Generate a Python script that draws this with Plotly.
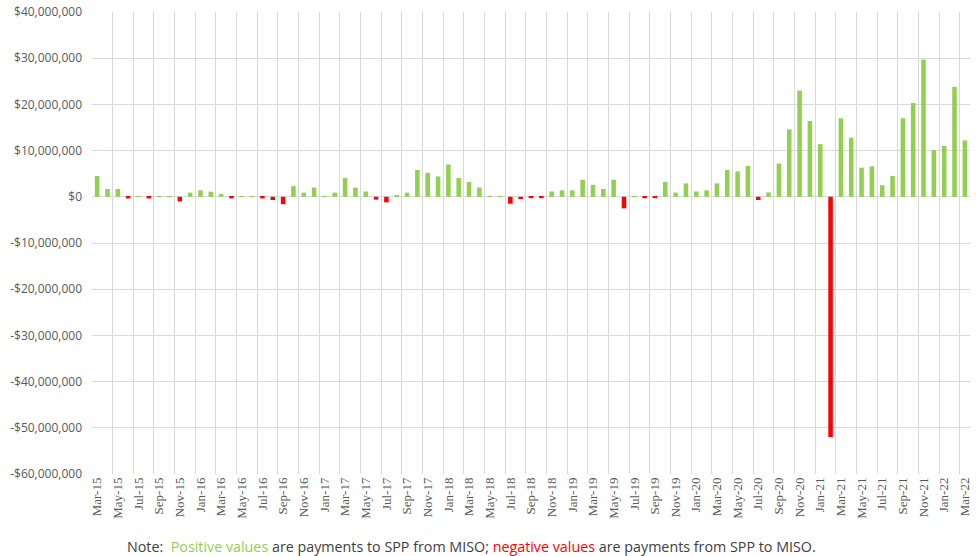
import plotly.graph_objects as go

months = []
mnames = ["Jan", "Feb", "Mar", "Apr", "May", "Jun", "Jul", "Aug", "Sep", "Oct", "Nov", "Dec"]
for y in range(15, 23):
    for m in mnames:
        months.append(f"{m}-{y}")
months = months[months.index("Mar-15"):months.index("Mar-22") + 1]

# Monthly M2M settlement values ($ millions)
values_m = [
    4.5, 1.7, 1.7, -0.35, 0.1, -0.35, 0.1, 0.1, -1.0, 0.9,
    1.4, 1.1, 0.6, -0.35, 0.1, 0.1, -0.35, -0.7, -1.6, 2.3,
    0.9, 2.0, 0.1, 0.9, 4.1, 2.0, 1.15, -0.6, -1.2, 0.2,
    0.9, 5.8, 5.2, 4.4, 7.0, 4.1, 3.2, 2.0, 0.1, 0.1,
    -1.5, -0.5, -0.3, -0.3, 1.15, 1.4, 1.4, 3.7, 2.6, 1.7,
    3.7, -2.5, 0.1, -0.3, -0.3, 3.2, 0.9, 2.9, 1.15, 1.4,
    2.9, 5.8, 5.5, 6.7, -0.7, 0.95, 7.2, 14.6, 23.0, 16.4,
    11.4, -52.0, 17.0, 12.8, 6.3, 6.6, 2.5, 4.5, 17.0, 20.3,
    29.7, 10.1, 11.0, 23.8, 12.2,
]
values = [v * 1e6 for v in values_m]

y_tickvals = [40e6, 30e6, 20e6, 10e6, 0, -10e6, -20e6, -30e6, -40e6, -50e6, -60e6]
y_ticktext = ["$40,000,000", "$30,000,000", "$20,000,000", "$10,000,000", "$0",
              "-$10,000,000", "-$20,000,000", "-$30,000,000", "-$40,000,000",
              "-$50,000,000", "-$60,000,000"]

GREEN = "#92D050"
RED = "#FF0000"
colors = [GREEN if v >= 0 else RED for v in values]

fig = go.Figure(go.Bar(x=months, y=values, marker_color=colors, marker_line_width=0))

fig.update_layout(
    width=976, height=556,
    margin=dict(l=92, r=6, t=12, b=82),
    plot_bgcolor="white", paper_bgcolor="white",
    bargap=0.56,
    showlegend=False,
    font=dict(family="Open Sans", color="#595959"),
)
fig.update_xaxes(
    type="category",
    categoryorder="array", categoryarray=months,
    range=[-0.5, len(months) - 0.5],
    tickmode="linear", tick0=0, dtick=2,
    tickson="boundaries",
    ticks="", tickangle=-90,
    tickfont=dict(family="Liberation Serif", size=13, color="#595959"),
    showgrid=True, gridcolor="#D9D9D9", gridwidth=1,
    showline=False, zeroline=False, automargin=False,
)
fig.update_yaxes(
    range=[-60e6, 40e6],
    tickvals=y_tickvals, ticktext=y_ticktext,
    tickfont=dict(family="Open Sans", size=12, color="#595959"),
    ticks="", ticklabelstandoff=9,
    showgrid=True, gridcolor="#D9D9D9", gridwidth=1,
    zeroline=True, zerolinecolor="#D9D9D9", zerolinewidth=1,
    showline=False, automargin=False,
)
fig.add_annotation(
    xref="paper", yref="paper", x=0.432, y=-0.158,
    xanchor="center", yanchor="middle", showarrow=False,
    text=("Note:  <span style='color:#92D050'>Positive values</span> are payments to SPP from MISO; "
          "<span style='color:#FF0000'>negative values</span> are payments from SPP to MISO."),
    font=dict(family="Open Sans", size=14.3, color="#404040"),
)

fig.write_html("out.html", config={"displayModeBar": False},
               post_script="document.body.style.margin='0';")
